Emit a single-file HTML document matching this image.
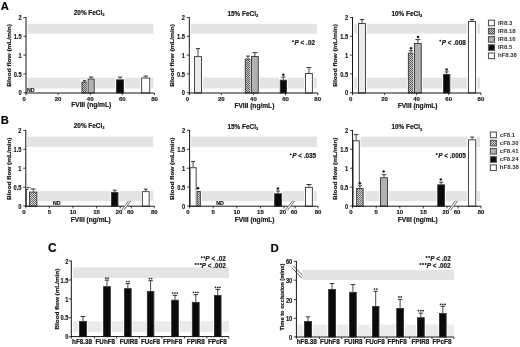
<!DOCTYPE html><html><head><meta charset="utf-8"><style>html,body{margin:0;padding:0;background:#fff;}svg{display:block;filter:blur(0.3px);}text{font-family:"Liberation Sans", sans-serif;stroke:#222;stroke-width:0.18px;}</style></head><body>
<svg width="520" height="347" viewBox="0 0 520 347" font-family='"Liberation Sans", sans-serif'>
<defs><pattern id="hatch" patternUnits="userSpaceOnUse" width="2" height="2"><rect width="2" height="2" fill="#dadada"/><rect width="1" height="1" fill="#646464"/><rect x="1" y="1" width="1" height="1" fill="#646464"/></pattern><pattern id="hatchA" patternUnits="userSpaceOnUse" width="2" height="2"><rect width="2" height="2" fill="#cecece"/><rect width="1" height="1" fill="#555"/><rect x="1" y="1" width="1" height="1" fill="#555"/></pattern></defs>
<rect width="520" height="347" fill="#fff"/>
<text x="0.8" y="9.9" font-size="11.2" text-anchor="start" font-weight="bold" fill="#000" >A</text>
<text x="0.8" y="123.6" font-size="11.2" text-anchor="start" font-weight="bold" fill="#000" >B</text>
<text x="48.1" y="252.2" font-size="11.9" text-anchor="start" font-weight="bold" fill="#000" >C</text>
<text x="270.5" y="252.0" font-size="11.6" text-anchor="start" font-weight="bold" fill="#000" >D</text>
<rect x="27.5" y="23.8" width="126.0" height="9.9" fill="#e4e4e4"/>
<rect x="27.5" y="77.6" width="126.0" height="10.9" fill="#e4e4e4"/>
<text x="27.0" y="92.0" font-size="5.3" text-anchor="start" font-weight="bold" fill="#111" >ND</text>
<rect x="80.7" y="79.39999999999999" width="7.699999999999994" height="13.600000000000009" fill="#fff"/>
<line x1="84.55" y1="80.6" x2="84.55" y2="81.6" stroke="#333" stroke-width="0.9"/>
<line x1="83.05" y1="80.6" x2="86.05" y2="80.6" stroke="#333" stroke-width="1"/>
<rect x="81.95" y="82.05" width="5.199999999999994" height="10.950000000000006" fill="url(#hatchA)" stroke="#333" stroke-width="0.9"/>
<rect x="86.8" y="75.89999999999999" width="8.700000000000008" height="17.10000000000001" fill="#fff"/>
<line x1="91.15" y1="77.1" x2="91.15" y2="78.6" stroke="#333" stroke-width="0.9"/>
<line x1="88.9" y1="77.1" x2="93.4" y2="77.1" stroke="#333" stroke-width="1"/>
<rect x="88.05" y="79.05" width="6.200000000000008" height="13.950000000000006" fill="#b2b2b2" stroke="#333" stroke-width="0.9"/>
<rect x="115.3" y="76.0" width="9.500000000000005" height="17.0" fill="#fff"/>
<line x1="120.05" y1="77.2" x2="120.05" y2="79.4" stroke="#333" stroke-width="0.9"/>
<line x1="117.8" y1="77.2" x2="122.3" y2="77.2" stroke="#333" stroke-width="1"/>
<rect x="116.55" y="79.85000000000001" width="7.000000000000005" height="13.149999999999995" fill="#0a0a0a" stroke="#333" stroke-width="0.9"/>
<rect x="140.39999999999998" y="74.89999999999999" width="10.6" height="18.10000000000001" fill="#fff"/>
<line x1="145.7" y1="76.1" x2="145.7" y2="77.6" stroke="#333" stroke-width="0.9"/>
<line x1="143.45" y1="76.1" x2="147.95" y2="76.1" stroke="#333" stroke-width="1"/>
<rect x="141.64999999999998" y="78.05" width="8.1" height="14.950000000000006" fill="#ffffff" stroke="#333" stroke-width="0.9"/>
<line x1="26" y1="17.0" x2="26" y2="93.5" stroke="#151515" stroke-width="1"/>
<line x1="23.4" y1="17.5" x2="26" y2="17.5" stroke="#151515" stroke-width="0.8"/>
<text x="0" y="0" transform="translate(21.60,20.10) scale(0.86,1)" font-size="6.6" text-anchor="end" font-weight="bold" fill="#111" style="stroke-width:0.15px">2</text>
<line x1="23.4" y1="36.3" x2="26" y2="36.3" stroke="#151515" stroke-width="0.8"/>
<text x="0" y="0" transform="translate(21.60,38.90) scale(0.86,1)" font-size="6.6" text-anchor="end" font-weight="bold" fill="#111" style="stroke-width:0.15px">1.5</text>
<line x1="23.4" y1="55.1" x2="26" y2="55.1" stroke="#151515" stroke-width="0.8"/>
<text x="0" y="0" transform="translate(21.60,57.70) scale(0.86,1)" font-size="6.6" text-anchor="end" font-weight="bold" fill="#111" style="stroke-width:0.15px">1</text>
<line x1="23.4" y1="73.9" x2="26" y2="73.9" stroke="#151515" stroke-width="0.8"/>
<text x="0" y="0" transform="translate(21.60,76.50) scale(0.86,1)" font-size="6.6" text-anchor="end" font-weight="bold" fill="#111" style="stroke-width:0.15px">0.5</text>
<line x1="23.4" y1="92.7" x2="26" y2="92.7" stroke="#151515" stroke-width="0.8"/>
<text x="0" y="0" transform="translate(21.60,95.30) scale(0.86,1)" font-size="6.6" text-anchor="end" font-weight="bold" fill="#111" style="stroke-width:0.15px">0</text>
<line x1="25.5" y1="93" x2="154.5" y2="93" stroke="#151515" stroke-width="1"/>
<line x1="26" y1="93" x2="26" y2="95.2" stroke="#151515" stroke-width="0.8"/>
<text x="0" y="0" transform="translate(24.20,100.60) scale(1.0,1)" font-size="6.0" text-anchor="middle" font-weight="bold" fill="#111" style="stroke-width:0.15px">0</text>
<line x1="58.1" y1="93" x2="58.1" y2="95.2" stroke="#151515" stroke-width="0.8"/>
<text x="0" y="0" transform="translate(58.10,100.60) scale(1.0,1)" font-size="6.0" text-anchor="middle" font-weight="bold" fill="#111" style="stroke-width:0.15px">20</text>
<line x1="90.2" y1="93" x2="90.2" y2="95.2" stroke="#151515" stroke-width="0.8"/>
<text x="0" y="0" transform="translate(90.20,100.60) scale(1.0,1)" font-size="6.0" text-anchor="middle" font-weight="bold" fill="#111" style="stroke-width:0.15px">40</text>
<line x1="122.3" y1="93" x2="122.3" y2="95.2" stroke="#151515" stroke-width="0.8"/>
<text x="0" y="0" transform="translate(122.30,100.60) scale(1.0,1)" font-size="6.0" text-anchor="middle" font-weight="bold" fill="#111" style="stroke-width:0.15px">60</text>
<line x1="154.5" y1="93" x2="154.5" y2="95.2" stroke="#151515" stroke-width="0.8"/>
<text x="0" y="0" transform="translate(154.50,100.60) scale(1.0,1)" font-size="6.0" text-anchor="middle" font-weight="bold" fill="#111" style="stroke-width:0.15px">80</text>
<text x="73.8" y="14.6" font-size="6.4" font-weight="bold" fill="#111">20% FeCl<tspan font-size="3.97" dy="1.2">3</tspan></text>
<text x="0" y="0" transform="translate(11.1,55.4) rotate(-90) scale(1.163,1)" font-size="5.6" text-anchor="middle" font-weight="bold" fill="#111">Blood flow (mL/min)</text>
<text x="91.2" y="107.3" font-size="6.6" text-anchor="middle" font-weight="bold" fill="#111" >FVIII (ng/mL)</text>
<rect x="190.8" y="23.8" width="126.19999999999999" height="9.9" fill="#e4e4e4"/>
<rect x="203.2" y="77.6" width="113.80000000000001" height="10.9" fill="#e4e4e4"/>
<rect x="193.29999999999998" y="47.4" width="9.400000000000011" height="45.6" fill="#fff"/>
<line x1="198.0" y1="48.6" x2="198.0" y2="56.2" stroke="#333" stroke-width="0.9"/>
<line x1="196.0" y1="48.6" x2="200.0" y2="48.6" stroke="#333" stroke-width="1"/>
<rect x="194.54999999999998" y="56.650000000000006" width="6.900000000000011" height="36.349999999999994" fill="#ebebeb" stroke="#333" stroke-width="0.9"/>
<rect x="244.0" y="54.9" width="7.899999999999983" height="38.1" fill="#fff"/>
<line x1="247.95" y1="56.1" x2="247.95" y2="58.6" stroke="#333" stroke-width="0.9"/>
<line x1="245.95" y1="56.1" x2="249.95" y2="56.1" stroke="#333" stroke-width="1"/>
<rect x="245.25" y="59.050000000000004" width="5.399999999999983" height="33.949999999999996" fill="url(#hatchA)" stroke="#333" stroke-width="0.9"/>
<rect x="250.29999999999998" y="51.4" width="9.199999999999994" height="41.6" fill="#fff"/>
<line x1="254.89999999999998" y1="52.6" x2="254.89999999999998" y2="56.1" stroke="#333" stroke-width="0.9"/>
<line x1="252.39999999999998" y1="52.6" x2="257.4" y2="52.6" stroke="#333" stroke-width="1"/>
<rect x="251.54999999999998" y="56.550000000000004" width="6.699999999999994" height="36.449999999999996" fill="#b2b2b2" stroke="#333" stroke-width="0.9"/>
<rect x="279.0" y="75.89999999999999" width="8.699999999999966" height="17.10000000000001" fill="#fff"/>
<line x1="283.35" y1="77.1" x2="283.35" y2="79.7" stroke="#333" stroke-width="0.9"/>
<line x1="281.35" y1="77.1" x2="285.35" y2="77.1" stroke="#333" stroke-width="1"/>
<rect x="280.25" y="80.15" width="6.1999999999999655" height="12.849999999999998" fill="#0a0a0a" stroke="#333" stroke-width="0.9"/>
<circle cx="283.30" cy="74.7" r="1.25" fill="#1a1a1a"/>
<rect x="304.3" y="66.39999999999999" width="9.299999999999988" height="26.60000000000001" fill="#fff"/>
<line x1="308.95000000000005" y1="67.6" x2="308.95000000000005" y2="73.1" stroke="#333" stroke-width="0.9"/>
<line x1="306.45000000000005" y1="67.6" x2="311.45000000000005" y2="67.6" stroke="#333" stroke-width="1"/>
<rect x="305.55" y="73.55" width="6.799999999999988" height="19.450000000000006" fill="#ffffff" stroke="#333" stroke-width="0.9"/>
<line x1="189.3" y1="17.0" x2="189.3" y2="93.5" stroke="#151515" stroke-width="1"/>
<line x1="186.70000000000002" y1="17.5" x2="189.3" y2="17.5" stroke="#151515" stroke-width="0.8"/>
<text x="0" y="0" transform="translate(184.90,20.10) scale(0.86,1)" font-size="6.6" text-anchor="end" font-weight="bold" fill="#111" style="stroke-width:0.15px">2</text>
<line x1="186.70000000000002" y1="36.3" x2="189.3" y2="36.3" stroke="#151515" stroke-width="0.8"/>
<text x="0" y="0" transform="translate(184.90,38.90) scale(0.86,1)" font-size="6.6" text-anchor="end" font-weight="bold" fill="#111" style="stroke-width:0.15px">1.5</text>
<line x1="186.70000000000002" y1="55.1" x2="189.3" y2="55.1" stroke="#151515" stroke-width="0.8"/>
<text x="0" y="0" transform="translate(184.90,57.70) scale(0.86,1)" font-size="6.6" text-anchor="end" font-weight="bold" fill="#111" style="stroke-width:0.15px">1</text>
<line x1="186.70000000000002" y1="73.9" x2="189.3" y2="73.9" stroke="#151515" stroke-width="0.8"/>
<text x="0" y="0" transform="translate(184.90,76.50) scale(0.86,1)" font-size="6.6" text-anchor="end" font-weight="bold" fill="#111" style="stroke-width:0.15px">0.5</text>
<line x1="186.70000000000002" y1="92.7" x2="189.3" y2="92.7" stroke="#151515" stroke-width="0.8"/>
<text x="0" y="0" transform="translate(184.90,95.30) scale(0.86,1)" font-size="6.6" text-anchor="end" font-weight="bold" fill="#111" style="stroke-width:0.15px">0</text>
<line x1="188.8" y1="93" x2="318" y2="93" stroke="#151515" stroke-width="1"/>
<line x1="189.3" y1="93" x2="189.3" y2="95.2" stroke="#151515" stroke-width="0.8"/>
<text x="0" y="0" transform="translate(187.50,100.60) scale(1.0,1)" font-size="6.0" text-anchor="middle" font-weight="bold" fill="#111" style="stroke-width:0.15px">0</text>
<line x1="221.3" y1="93" x2="221.3" y2="95.2" stroke="#151515" stroke-width="0.8"/>
<text x="0" y="0" transform="translate(221.30,100.60) scale(1.0,1)" font-size="6.0" text-anchor="middle" font-weight="bold" fill="#111" style="stroke-width:0.15px">20</text>
<line x1="253.4" y1="93" x2="253.4" y2="95.2" stroke="#151515" stroke-width="0.8"/>
<text x="0" y="0" transform="translate(253.40,100.60) scale(1.0,1)" font-size="6.0" text-anchor="middle" font-weight="bold" fill="#111" style="stroke-width:0.15px">40</text>
<line x1="285.5" y1="93" x2="285.5" y2="95.2" stroke="#151515" stroke-width="0.8"/>
<text x="0" y="0" transform="translate(285.50,100.60) scale(1.0,1)" font-size="6.0" text-anchor="middle" font-weight="bold" fill="#111" style="stroke-width:0.15px">60</text>
<line x1="317.7" y1="93" x2="317.7" y2="95.2" stroke="#151515" stroke-width="0.8"/>
<text x="0" y="0" transform="translate(317.70,100.60) scale(1.0,1)" font-size="6.0" text-anchor="middle" font-weight="bold" fill="#111" style="stroke-width:0.15px">80</text>
<text x="227.5" y="15.8" font-size="6.4" font-weight="bold" fill="#111">15% FeCl<tspan font-size="3.97" dy="1.2">3</tspan></text>
<text x="0" y="0" transform="translate(174.1,55.4) rotate(-90) scale(1.163,1)" font-size="5.6" text-anchor="middle" font-weight="bold" fill="#111">Blood flow (mL/min)</text>
<text x="315" y="45" font-size="6.4" font-weight="bold" text-anchor="end" fill="#111"><tspan font-style="italic">P</tspan> &lt; .02</text>
<circle cx="293.04" cy="41.16" r="0.95" fill="#1a1a1a"/>
<text x="254.4" y="107.7" font-size="6.6" text-anchor="middle" font-weight="bold" fill="#111" >FVIII (ng/mL)</text>
<rect x="354.0" y="23.8" width="126.0" height="9.9" fill="#e4e4e4"/>
<rect x="354.0" y="77.6" width="126.0" height="10.9" fill="#e4e4e4"/>
<rect x="357.3" y="18.400000000000002" width="9.499999999999977" height="74.6" fill="#fff"/>
<line x1="362.05" y1="19.6" x2="362.05" y2="23.1" stroke="#333" stroke-width="0.9"/>
<line x1="359.8" y1="19.6" x2="364.3" y2="19.6" stroke="#333" stroke-width="1"/>
<rect x="358.55" y="23.55" width="6.999999999999977" height="69.45" fill="#ebebeb" stroke="#333" stroke-width="0.9"/>
<rect x="407.09999999999997" y="49.5" width="7.800000000000045" height="43.5" fill="#fff"/>
<line x1="411.0" y1="50.7" x2="411.0" y2="52.7" stroke="#333" stroke-width="0.9"/>
<line x1="409.0" y1="50.7" x2="413.0" y2="50.7" stroke="#333" stroke-width="1"/>
<rect x="408.34999999999997" y="53.150000000000006" width="5.300000000000045" height="39.849999999999994" fill="url(#hatchA)" stroke="#333" stroke-width="0.9"/>
<circle cx="411.10" cy="48.3" r="1.25" fill="#1a1a1a"/>
<rect x="413.3" y="38.4" width="9.199999999999966" height="54.6" fill="#fff"/>
<line x1="417.9" y1="39.6" x2="417.9" y2="43.1" stroke="#333" stroke-width="0.9"/>
<line x1="415.4" y1="39.6" x2="420.4" y2="39.6" stroke="#333" stroke-width="1"/>
<rect x="414.55" y="43.550000000000004" width="6.6999999999999655" height="49.449999999999996" fill="#b2b2b2" stroke="#333" stroke-width="0.9"/>
<circle cx="418.00" cy="37.0" r="1.25" fill="#1a1a1a"/>
<rect x="442.2" y="70.7" width="8.900000000000011" height="22.299999999999997" fill="#fff"/>
<line x1="446.65" y1="71.9" x2="446.65" y2="74.1" stroke="#333" stroke-width="0.9"/>
<line x1="444.65" y1="71.9" x2="448.65" y2="71.9" stroke="#333" stroke-width="1"/>
<rect x="443.45" y="74.55" width="6.400000000000011" height="18.450000000000006" fill="#0a0a0a" stroke="#333" stroke-width="0.9"/>
<circle cx="446.60" cy="69.4" r="1.25" fill="#1a1a1a"/>
<rect x="467.2" y="18.400000000000002" width="9.6" height="74.6" fill="#fff"/>
<line x1="472.0" y1="19.6" x2="472.0" y2="21.1" stroke="#333" stroke-width="0.9"/>
<line x1="470.0" y1="19.6" x2="474.0" y2="19.6" stroke="#333" stroke-width="1"/>
<rect x="468.45" y="21.55" width="7.1" height="71.45" fill="#ffffff" stroke="#333" stroke-width="0.9"/>
<line x1="352.5" y1="17.0" x2="352.5" y2="93.5" stroke="#151515" stroke-width="1"/>
<line x1="349.9" y1="17.5" x2="352.5" y2="17.5" stroke="#151515" stroke-width="0.8"/>
<text x="0" y="0" transform="translate(348.10,20.10) scale(0.86,1)" font-size="6.6" text-anchor="end" font-weight="bold" fill="#111" style="stroke-width:0.15px">2</text>
<line x1="349.9" y1="36.3" x2="352.5" y2="36.3" stroke="#151515" stroke-width="0.8"/>
<text x="0" y="0" transform="translate(348.10,38.90) scale(0.86,1)" font-size="6.6" text-anchor="end" font-weight="bold" fill="#111" style="stroke-width:0.15px">1.5</text>
<line x1="349.9" y1="55.1" x2="352.5" y2="55.1" stroke="#151515" stroke-width="0.8"/>
<text x="0" y="0" transform="translate(348.10,57.70) scale(0.86,1)" font-size="6.6" text-anchor="end" font-weight="bold" fill="#111" style="stroke-width:0.15px">1</text>
<line x1="349.9" y1="73.9" x2="352.5" y2="73.9" stroke="#151515" stroke-width="0.8"/>
<text x="0" y="0" transform="translate(348.10,76.50) scale(0.86,1)" font-size="6.6" text-anchor="end" font-weight="bold" fill="#111" style="stroke-width:0.15px">0.5</text>
<line x1="349.9" y1="92.7" x2="352.5" y2="92.7" stroke="#151515" stroke-width="0.8"/>
<text x="0" y="0" transform="translate(348.10,95.30) scale(0.86,1)" font-size="6.6" text-anchor="end" font-weight="bold" fill="#111" style="stroke-width:0.15px">0</text>
<line x1="352.0" y1="93" x2="481" y2="93" stroke="#151515" stroke-width="1"/>
<line x1="352.5" y1="93" x2="352.5" y2="95.2" stroke="#151515" stroke-width="0.8"/>
<text x="0" y="0" transform="translate(350.70,100.60) scale(1.0,1)" font-size="6.0" text-anchor="middle" font-weight="bold" fill="#111" style="stroke-width:0.15px">0</text>
<line x1="384.6" y1="93" x2="384.6" y2="95.2" stroke="#151515" stroke-width="0.8"/>
<text x="0" y="0" transform="translate(384.60,100.60) scale(1.0,1)" font-size="6.0" text-anchor="middle" font-weight="bold" fill="#111" style="stroke-width:0.15px">20</text>
<line x1="416.6" y1="93" x2="416.6" y2="95.2" stroke="#151515" stroke-width="0.8"/>
<text x="0" y="0" transform="translate(416.60,100.60) scale(1.0,1)" font-size="6.0" text-anchor="middle" font-weight="bold" fill="#111" style="stroke-width:0.15px">40</text>
<line x1="448.7" y1="93" x2="448.7" y2="95.2" stroke="#151515" stroke-width="0.8"/>
<text x="0" y="0" transform="translate(448.70,100.60) scale(1.0,1)" font-size="6.0" text-anchor="middle" font-weight="bold" fill="#111" style="stroke-width:0.15px">60</text>
<line x1="480.9" y1="93" x2="480.9" y2="95.2" stroke="#151515" stroke-width="0.8"/>
<text x="0" y="0" transform="translate(480.90,100.60) scale(1.0,1)" font-size="6.0" text-anchor="middle" font-weight="bold" fill="#111" style="stroke-width:0.15px">80</text>
<text x="391.5" y="16.0" font-size="6.4" font-weight="bold" fill="#111">10% FeCl<tspan font-size="3.97" dy="1.2">3</tspan></text>
<text x="0" y="0" transform="translate(337.3,55.4) rotate(-90) scale(1.163,1)" font-size="5.6" text-anchor="middle" font-weight="bold" fill="#111">Blood flow (mL/min)</text>
<text x="465.8" y="44.5" font-size="6.4" font-weight="bold" text-anchor="end" fill="#111"><tspan font-style="italic">P</tspan> &lt; .008</text>
<circle cx="440.28" cy="40.66" r="0.95" fill="#1a1a1a"/>
<text x="417.6" y="107.7" font-size="6.6" text-anchor="middle" font-weight="bold" fill="#111" >FVIII (ng/mL)</text>
<rect x="488.5" y="20.2" width="6" height="5.6" fill="#ffffff" stroke="#555" stroke-width="1.1"/>
<text x="497.9" y="24.6" font-size="6.0" text-anchor="start" font-weight="bold" fill="#333" style="stroke:none">IR8.3</text>
<rect x="488.5" y="28.4" width="6" height="5.6" fill="url(#hatchA)" stroke="#555" stroke-width="1.1"/>
<text x="497.9" y="32.8" font-size="6.0" text-anchor="start" font-weight="bold" fill="#333" style="stroke:none">IR8.18</text>
<rect x="488.5" y="36.599999999999994" width="6" height="5.6" fill="#b2b2b2" stroke="#555" stroke-width="1.1"/>
<text x="497.9" y="40.99999999999999" font-size="6.0" text-anchor="start" font-weight="bold" fill="#333" style="stroke:none">IR8.16</text>
<rect x="488.5" y="44.8" width="6" height="5.6" fill="#0a0a0a" stroke="#555" stroke-width="1.1"/>
<text x="497.9" y="49.199999999999996" font-size="6.0" text-anchor="start" font-weight="bold" fill="#333" style="stroke:none">IR8.5</text>
<rect x="488.5" y="53.0" width="6" height="5.6" fill="#ffffff" stroke="#555" stroke-width="1.1"/>
<text x="497.9" y="57.4" font-size="6.0" text-anchor="start" font-weight="bold" fill="#333" style="stroke:none">hF8.38</text>
<rect x="27.3" y="136.6" width="126.0" height="10.3" fill="#e4e4e4"/>
<rect x="37.5" y="191.0" width="115.80000000000001" height="10.4" fill="#e4e4e4"/>
<text x="53.0" y="205.2" font-size="5.3" text-anchor="start" font-weight="bold" fill="#111" >ND</text>
<rect x="25.0" y="186.4" width="7.299999999999999" height="19.799999999999983" fill="#fff"/>
<line x1="28.65" y1="187.6" x2="28.65" y2="188.9" stroke="#333" stroke-width="0.9"/>
<line x1="26.65" y1="187.6" x2="30.65" y2="187.6" stroke="#333" stroke-width="1"/>
<rect x="26.25" y="189.35" width="4.799999999999999" height="16.849999999999984" fill="#ffffff" stroke="#333" stroke-width="0.9"/>
<rect x="28.3" y="187.8" width="9.799999999999995" height="18.399999999999977" fill="#fff"/>
<line x1="33.2" y1="189.0" x2="33.2" y2="191.6" stroke="#333" stroke-width="0.9"/>
<line x1="30.700000000000003" y1="189.0" x2="35.7" y2="189.0" stroke="#333" stroke-width="1"/>
<rect x="29.55" y="192.04999999999998" width="7.299999999999995" height="14.149999999999995" fill="url(#hatch)" stroke="#333" stroke-width="0.9"/>
<rect x="110.2" y="189.0" width="9.000000000000005" height="17.19999999999999" fill="#fff"/>
<line x1="114.7" y1="190.2" x2="114.7" y2="191.9" stroke="#333" stroke-width="0.9"/>
<line x1="112.7" y1="190.2" x2="116.7" y2="190.2" stroke="#333" stroke-width="1"/>
<rect x="111.45" y="192.35" width="6.500000000000005" height="13.849999999999984" fill="#0a0a0a" stroke="#333" stroke-width="0.9"/>
<rect x="141.1" y="188.0" width="9.299999999999988" height="18.19999999999999" fill="#fff"/>
<line x1="145.75" y1="189.2" x2="145.75" y2="191.2" stroke="#333" stroke-width="0.9"/>
<line x1="143.75" y1="189.2" x2="147.75" y2="189.2" stroke="#333" stroke-width="1"/>
<rect x="142.35" y="191.64999999999998" width="6.799999999999988" height="14.55" fill="#ffffff" stroke="#333" stroke-width="0.9"/>
<line x1="25.8" y1="129.9" x2="25.8" y2="206.7" stroke="#151515" stroke-width="1"/>
<line x1="23.2" y1="130.4" x2="25.8" y2="130.4" stroke="#151515" stroke-width="0.8"/>
<text x="0" y="0" transform="translate(21.40,133.00) scale(0.86,1)" font-size="6.6" text-anchor="end" font-weight="bold" fill="#111" style="stroke-width:0.15px">2</text>
<line x1="23.2" y1="149.3" x2="25.8" y2="149.3" stroke="#151515" stroke-width="0.8"/>
<text x="0" y="0" transform="translate(21.40,151.90) scale(0.86,1)" font-size="6.6" text-anchor="end" font-weight="bold" fill="#111" style="stroke-width:0.15px">1.5</text>
<line x1="23.2" y1="168.2" x2="25.8" y2="168.2" stroke="#151515" stroke-width="0.8"/>
<text x="0" y="0" transform="translate(21.40,170.80) scale(0.86,1)" font-size="6.6" text-anchor="end" font-weight="bold" fill="#111" style="stroke-width:0.15px">1</text>
<line x1="23.2" y1="187.1" x2="25.8" y2="187.1" stroke="#151515" stroke-width="0.8"/>
<text x="0" y="0" transform="translate(21.40,189.70) scale(0.86,1)" font-size="6.6" text-anchor="end" font-weight="bold" fill="#111" style="stroke-width:0.15px">0.5</text>
<line x1="23.2" y1="206.0" x2="25.8" y2="206.0" stroke="#151515" stroke-width="0.8"/>
<text x="0" y="0" transform="translate(21.40,208.60) scale(0.86,1)" font-size="6.6" text-anchor="end" font-weight="bold" fill="#111" style="stroke-width:0.15px">0</text>
<line x1="25.3" y1="206.2" x2="124.0" y2="206.2" stroke="#151515" stroke-width="1"/>
<line x1="127.39999999999999" y1="206.2" x2="154.3" y2="206.2" stroke="#151515" stroke-width="1"/>
<line x1="25.8" y1="206.2" x2="25.8" y2="208.4" stroke="#151515" stroke-width="0.8"/>
<text x="0" y="0" transform="translate(24.00,214.40) scale(1.0,1)" font-size="6.0" text-anchor="middle" font-weight="bold" fill="#111" style="stroke-width:0.15px">0</text>
<line x1="49.4" y1="206.2" x2="49.4" y2="208.4" stroke="#151515" stroke-width="0.8"/>
<text x="0" y="0" transform="translate(49.40,214.40) scale(1.0,1)" font-size="6.0" text-anchor="middle" font-weight="bold" fill="#111" style="stroke-width:0.15px">5</text>
<line x1="73.0" y1="206.2" x2="73.0" y2="208.4" stroke="#151515" stroke-width="0.8"/>
<text x="0" y="0" transform="translate(73.00,214.40) scale(1.0,1)" font-size="6.0" text-anchor="middle" font-weight="bold" fill="#111" style="stroke-width:0.15px">10</text>
<line x1="96.6" y1="206.2" x2="96.6" y2="208.4" stroke="#151515" stroke-width="0.8"/>
<text x="0" y="0" transform="translate(96.60,214.40) scale(1.0,1)" font-size="6.0" text-anchor="middle" font-weight="bold" fill="#111" style="stroke-width:0.15px">15</text>
<line x1="120.19999999999999" y1="206.2" x2="120.19999999999999" y2="208.4" stroke="#151515" stroke-width="0.8"/>
<text x="0" y="0" transform="translate(119.00,214.40) scale(1.0,1)" font-size="6.0" text-anchor="middle" font-weight="bold" fill="#111" style="stroke-width:0.15px">20</text>
<line x1="131.3" y1="206.2" x2="131.3" y2="208.4" stroke="#151515" stroke-width="0.8"/>
<text x="0" y="0" transform="translate(130.30,214.40) scale(1.0,1)" font-size="6.0" text-anchor="middle" font-weight="bold" fill="#111" style="stroke-width:0.15px">60</text>
<line x1="154.3" y1="206.2" x2="154.3" y2="208.4" stroke="#151515" stroke-width="0.8"/>
<text x="0" y="0" transform="translate(154.30,214.40) scale(1.0,1)" font-size="6.0" text-anchor="middle" font-weight="bold" fill="#111" style="stroke-width:0.15px">80</text>
<line x1="121.39999999999999" y1="210.4" x2="128.6" y2="200.9" stroke="#444" stroke-width="0.8"/>
<line x1="123.69999999999999" y1="210.4" x2="130.89999999999998" y2="200.9" stroke="#444" stroke-width="0.8"/>
<text x="73.8" y="127.6" font-size="6.4" font-weight="bold" fill="#111">20% FeCl<tspan font-size="3.97" dy="1.2">3</tspan></text>
<text x="0" y="0" transform="translate(11.1,168.7) rotate(-90) scale(1.163,1)" font-size="5.6" text-anchor="middle" font-weight="bold" fill="#111">Blood flow (mL/min)</text>
<text x="90.8" y="221.6" font-size="6.6" text-anchor="middle" font-weight="bold" fill="#111" >FVIII (ng/mL)</text>
<rect x="191.1" y="136.6" width="125.9" height="10.3" fill="#e4e4e4"/>
<rect x="201.7" y="191.0" width="115.30000000000001" height="10.4" fill="#e4e4e4"/>
<text x="216.3" y="204.5" font-size="5.3" text-anchor="start" font-weight="bold" fill="#111" >ND</text>
<rect x="188.79999999999998" y="160.4" width="8.6" height="45.79999999999998" fill="#fff"/>
<line x1="193.1" y1="161.6" x2="193.1" y2="167.3" stroke="#333" stroke-width="0.9"/>
<line x1="191.1" y1="161.6" x2="195.1" y2="161.6" stroke="#333" stroke-width="1"/>
<rect x="190.04999999999998" y="167.75" width="6.1" height="38.449999999999974" fill="#ffffff" stroke="#333" stroke-width="0.9"/>
<rect x="195.7" y="190.2" width="5.900000000000011" height="16.0" fill="#fff"/>
<rect x="196.95" y="191.45" width="3.4000000000000115" height="14.74999999999999" fill="url(#hatch)" stroke="#333" stroke-width="0.9"/>
<circle cx="198.00" cy="188.3" r="1.25" fill="#1a1a1a"/>
<rect x="273.4" y="189.8" width="9.299999999999988" height="16.399999999999977" fill="#fff"/>
<line x1="278.04999999999995" y1="191" x2="278.04999999999995" y2="193.3" stroke="#333" stroke-width="0.9"/>
<line x1="276.04999999999995" y1="191" x2="280.04999999999995" y2="191" stroke="#333" stroke-width="1"/>
<rect x="274.65" y="193.75" width="6.799999999999988" height="12.449999999999978" fill="#0a0a0a" stroke="#333" stroke-width="0.9"/>
<circle cx="277.90" cy="188.5" r="1.25" fill="#1a1a1a"/>
<rect x="304.3" y="183.3" width="9.299999999999988" height="22.899999999999977" fill="#fff"/>
<line x1="308.95000000000005" y1="184.5" x2="308.95000000000005" y2="186.9" stroke="#333" stroke-width="0.9"/>
<line x1="306.45000000000005" y1="184.5" x2="311.45000000000005" y2="184.5" stroke="#333" stroke-width="1"/>
<rect x="305.55" y="187.35" width="6.799999999999988" height="18.849999999999984" fill="#ffffff" stroke="#333" stroke-width="0.9"/>
<line x1="189.6" y1="129.9" x2="189.6" y2="206.7" stroke="#151515" stroke-width="1"/>
<line x1="187.0" y1="130.4" x2="189.6" y2="130.4" stroke="#151515" stroke-width="0.8"/>
<text x="0" y="0" transform="translate(185.20,133.00) scale(0.86,1)" font-size="6.6" text-anchor="end" font-weight="bold" fill="#111" style="stroke-width:0.15px">2</text>
<line x1="187.0" y1="149.3" x2="189.6" y2="149.3" stroke="#151515" stroke-width="0.8"/>
<text x="0" y="0" transform="translate(185.20,151.90) scale(0.86,1)" font-size="6.6" text-anchor="end" font-weight="bold" fill="#111" style="stroke-width:0.15px">1.5</text>
<line x1="187.0" y1="168.2" x2="189.6" y2="168.2" stroke="#151515" stroke-width="0.8"/>
<text x="0" y="0" transform="translate(185.20,170.80) scale(0.86,1)" font-size="6.6" text-anchor="end" font-weight="bold" fill="#111" style="stroke-width:0.15px">1</text>
<line x1="187.0" y1="187.1" x2="189.6" y2="187.1" stroke="#151515" stroke-width="0.8"/>
<text x="0" y="0" transform="translate(185.20,189.70) scale(0.86,1)" font-size="6.6" text-anchor="end" font-weight="bold" fill="#111" style="stroke-width:0.15px">0.5</text>
<line x1="187.0" y1="206.0" x2="189.6" y2="206.0" stroke="#151515" stroke-width="0.8"/>
<text x="0" y="0" transform="translate(185.20,208.60) scale(0.86,1)" font-size="6.6" text-anchor="end" font-weight="bold" fill="#111" style="stroke-width:0.15px">0</text>
<line x1="189.1" y1="206.2" x2="287.8" y2="206.2" stroke="#151515" stroke-width="1"/>
<line x1="291.2" y1="206.2" x2="318" y2="206.2" stroke="#151515" stroke-width="1"/>
<line x1="189.6" y1="206.2" x2="189.6" y2="208.4" stroke="#151515" stroke-width="0.8"/>
<text x="0" y="0" transform="translate(187.80,214.40) scale(1.0,1)" font-size="6.0" text-anchor="middle" font-weight="bold" fill="#111" style="stroke-width:0.15px">0</text>
<line x1="213.2" y1="206.2" x2="213.2" y2="208.4" stroke="#151515" stroke-width="0.8"/>
<text x="0" y="0" transform="translate(213.20,214.40) scale(1.0,1)" font-size="6.0" text-anchor="middle" font-weight="bold" fill="#111" style="stroke-width:0.15px">5</text>
<line x1="236.79999999999998" y1="206.2" x2="236.79999999999998" y2="208.4" stroke="#151515" stroke-width="0.8"/>
<text x="0" y="0" transform="translate(236.80,214.40) scale(1.0,1)" font-size="6.0" text-anchor="middle" font-weight="bold" fill="#111" style="stroke-width:0.15px">10</text>
<line x1="260.4" y1="206.2" x2="260.4" y2="208.4" stroke="#151515" stroke-width="0.8"/>
<text x="0" y="0" transform="translate(260.40,214.40) scale(1.0,1)" font-size="6.0" text-anchor="middle" font-weight="bold" fill="#111" style="stroke-width:0.15px">15</text>
<line x1="284.0" y1="206.2" x2="284.0" y2="208.4" stroke="#151515" stroke-width="0.8"/>
<text x="0" y="0" transform="translate(282.80,214.40) scale(1.0,1)" font-size="6.0" text-anchor="middle" font-weight="bold" fill="#111" style="stroke-width:0.15px">20</text>
<line x1="295.1" y1="206.2" x2="295.1" y2="208.4" stroke="#151515" stroke-width="0.8"/>
<text x="0" y="0" transform="translate(294.10,214.40) scale(1.0,1)" font-size="6.0" text-anchor="middle" font-weight="bold" fill="#111" style="stroke-width:0.15px">60</text>
<line x1="318.1" y1="206.2" x2="318.1" y2="208.4" stroke="#151515" stroke-width="0.8"/>
<text x="0" y="0" transform="translate(318.10,214.40) scale(1.0,1)" font-size="6.0" text-anchor="middle" font-weight="bold" fill="#111" style="stroke-width:0.15px">80</text>
<line x1="285.2" y1="210.4" x2="292.4" y2="200.9" stroke="#444" stroke-width="0.8"/>
<line x1="287.5" y1="210.4" x2="294.7" y2="200.9" stroke="#444" stroke-width="0.8"/>
<text x="227.5" y="129.1" font-size="6.4" font-weight="bold" fill="#111">15% FeCl<tspan font-size="3.97" dy="1.2">3</tspan></text>
<text x="0" y="0" transform="translate(174.1,168.7) rotate(-90) scale(1.163,1)" font-size="5.6" text-anchor="middle" font-weight="bold" fill="#111">Blood flow (mL/min)</text>
<text x="316.2" y="158.2" font-size="6.4" font-weight="bold" text-anchor="end" fill="#111"><tspan font-style="italic">P</tspan> &lt; .035</text>
<circle cx="290.68" cy="154.36" r="0.95" fill="#1a1a1a"/>
<text x="254.6" y="221.6" font-size="6.6" text-anchor="middle" font-weight="bold" fill="#111" >FVIII (ng/mL)</text>
<rect x="354.1" y="136.6" width="125.89999999999998" height="10.3" fill="#e4e4e4"/>
<rect x="365.3" y="191.0" width="114.69999999999999" height="10.4" fill="#e4e4e4"/>
<rect x="351.8" y="133.4" width="8.699999999999966" height="72.79999999999998" fill="#fff"/>
<line x1="356.15" y1="134.6" x2="356.15" y2="140.3" stroke="#333" stroke-width="0.9"/>
<line x1="353.9" y1="134.6" x2="358.4" y2="134.6" stroke="#333" stroke-width="1"/>
<rect x="353.05" y="140.75" width="6.1999999999999655" height="65.44999999999997" fill="#ffffff" stroke="#333" stroke-width="0.9"/>
<rect x="355.4" y="184.60000000000002" width="9.000000000000034" height="21.599999999999966" fill="#fff"/>
<line x1="359.9" y1="185.8" x2="359.9" y2="188.1" stroke="#333" stroke-width="0.9"/>
<line x1="357.9" y1="185.8" x2="361.9" y2="185.8" stroke="#333" stroke-width="1"/>
<rect x="356.65" y="188.54999999999998" width="6.500000000000034" height="17.649999999999995" fill="url(#hatch)" stroke="#333" stroke-width="0.9"/>
<circle cx="359.90" cy="183.3" r="1.25" fill="#1a1a1a"/>
<rect x="379.3" y="173.5" width="9.399999999999954" height="32.69999999999999" fill="#fff"/>
<line x1="384.0" y1="174.7" x2="384.0" y2="177.3" stroke="#333" stroke-width="0.9"/>
<line x1="381.75" y1="174.7" x2="386.25" y2="174.7" stroke="#333" stroke-width="1"/>
<rect x="380.55" y="177.75" width="6.899999999999954" height="28.449999999999978" fill="#b2b2b2" stroke="#333" stroke-width="0.9"/>
<circle cx="383.60" cy="171.6" r="1.25" fill="#1a1a1a"/>
<rect x="436.5" y="181.10000000000002" width="9.299999999999988" height="25.099999999999966" fill="#fff"/>
<line x1="441.15" y1="182.3" x2="441.15" y2="184.4" stroke="#333" stroke-width="0.9"/>
<line x1="439.15" y1="182.3" x2="443.15" y2="182.3" stroke="#333" stroke-width="1"/>
<rect x="437.75" y="184.85" width="6.799999999999988" height="21.349999999999984" fill="#0a0a0a" stroke="#333" stroke-width="0.9"/>
<circle cx="440.80" cy="179.6" r="1.25" fill="#1a1a1a"/>
<rect x="467.3" y="135.9" width="9.699999999999966" height="70.29999999999998" fill="#fff"/>
<line x1="472.15" y1="137.1" x2="472.15" y2="139.4" stroke="#333" stroke-width="0.9"/>
<line x1="470.15" y1="137.1" x2="474.15" y2="137.1" stroke="#333" stroke-width="1"/>
<rect x="468.55" y="139.85" width="7.1999999999999655" height="66.34999999999998" fill="#ffffff" stroke="#333" stroke-width="0.9"/>
<line x1="352.6" y1="129.9" x2="352.6" y2="206.7" stroke="#151515" stroke-width="1"/>
<line x1="350.0" y1="130.4" x2="352.6" y2="130.4" stroke="#151515" stroke-width="0.8"/>
<text x="0" y="0" transform="translate(348.20,133.00) scale(0.86,1)" font-size="6.6" text-anchor="end" font-weight="bold" fill="#111" style="stroke-width:0.15px">2</text>
<line x1="350.0" y1="149.3" x2="352.6" y2="149.3" stroke="#151515" stroke-width="0.8"/>
<text x="0" y="0" transform="translate(348.20,151.90) scale(0.86,1)" font-size="6.6" text-anchor="end" font-weight="bold" fill="#111" style="stroke-width:0.15px">1.5</text>
<line x1="350.0" y1="168.2" x2="352.6" y2="168.2" stroke="#151515" stroke-width="0.8"/>
<text x="0" y="0" transform="translate(348.20,170.80) scale(0.86,1)" font-size="6.6" text-anchor="end" font-weight="bold" fill="#111" style="stroke-width:0.15px">1</text>
<line x1="350.0" y1="187.1" x2="352.6" y2="187.1" stroke="#151515" stroke-width="0.8"/>
<text x="0" y="0" transform="translate(348.20,189.70) scale(0.86,1)" font-size="6.6" text-anchor="end" font-weight="bold" fill="#111" style="stroke-width:0.15px">0.5</text>
<line x1="350.0" y1="206.0" x2="352.6" y2="206.0" stroke="#151515" stroke-width="0.8"/>
<text x="0" y="0" transform="translate(348.20,208.60) scale(0.86,1)" font-size="6.6" text-anchor="end" font-weight="bold" fill="#111" style="stroke-width:0.15px">0</text>
<line x1="352.1" y1="206.2" x2="450.8" y2="206.2" stroke="#151515" stroke-width="1"/>
<line x1="454.20000000000005" y1="206.2" x2="481.1" y2="206.2" stroke="#151515" stroke-width="1"/>
<line x1="352.6" y1="206.2" x2="352.6" y2="208.4" stroke="#151515" stroke-width="0.8"/>
<text x="0" y="0" transform="translate(350.80,214.40) scale(1.0,1)" font-size="6.0" text-anchor="middle" font-weight="bold" fill="#111" style="stroke-width:0.15px">0</text>
<line x1="376.20000000000005" y1="206.2" x2="376.20000000000005" y2="208.4" stroke="#151515" stroke-width="0.8"/>
<text x="0" y="0" transform="translate(376.20,214.40) scale(1.0,1)" font-size="6.0" text-anchor="middle" font-weight="bold" fill="#111" style="stroke-width:0.15px">5</text>
<line x1="399.8" y1="206.2" x2="399.8" y2="208.4" stroke="#151515" stroke-width="0.8"/>
<text x="0" y="0" transform="translate(399.80,214.40) scale(1.0,1)" font-size="6.0" text-anchor="middle" font-weight="bold" fill="#111" style="stroke-width:0.15px">10</text>
<line x1="423.40000000000003" y1="206.2" x2="423.40000000000003" y2="208.4" stroke="#151515" stroke-width="0.8"/>
<text x="0" y="0" transform="translate(423.40,214.40) scale(1.0,1)" font-size="6.0" text-anchor="middle" font-weight="bold" fill="#111" style="stroke-width:0.15px">15</text>
<line x1="447.0" y1="206.2" x2="447.0" y2="208.4" stroke="#151515" stroke-width="0.8"/>
<text x="0" y="0" transform="translate(445.80,214.40) scale(1.0,1)" font-size="6.0" text-anchor="middle" font-weight="bold" fill="#111" style="stroke-width:0.15px">20</text>
<line x1="458.1" y1="206.2" x2="458.1" y2="208.4" stroke="#151515" stroke-width="0.8"/>
<text x="0" y="0" transform="translate(457.10,214.40) scale(1.0,1)" font-size="6.0" text-anchor="middle" font-weight="bold" fill="#111" style="stroke-width:0.15px">60</text>
<line x1="481.1" y1="206.2" x2="481.1" y2="208.4" stroke="#151515" stroke-width="0.8"/>
<text x="0" y="0" transform="translate(481.10,214.40) scale(1.0,1)" font-size="6.0" text-anchor="middle" font-weight="bold" fill="#111" style="stroke-width:0.15px">80</text>
<line x1="448.20000000000005" y1="210.4" x2="455.40000000000003" y2="200.9" stroke="#444" stroke-width="0.8"/>
<line x1="450.50000000000006" y1="210.4" x2="457.70000000000005" y2="200.9" stroke="#444" stroke-width="0.8"/>
<text x="391.5" y="129.3" font-size="6.4" font-weight="bold" fill="#111">10% FeCl<tspan font-size="3.97" dy="1.2">3</tspan></text>
<text x="0" y="0" transform="translate(337.3,168.7) rotate(-90) scale(1.163,1)" font-size="5.6" text-anchor="middle" font-weight="bold" fill="#111">Blood flow (mL/min)</text>
<text x="465.8" y="157.8" font-size="6.4" font-weight="bold" text-anchor="end" fill="#111"><tspan font-style="italic">P</tspan> &lt; .0005</text>
<circle cx="436.72" cy="153.96" r="0.95" fill="#1a1a1a"/>
<text x="417.8" y="221.6" font-size="6.6" text-anchor="middle" font-weight="bold" fill="#111" >FVIII (ng/mL)</text>
<rect x="490.4" y="132.1" width="6" height="5.6" fill="#ffffff" stroke="#555" stroke-width="1.1"/>
<text x="499.8" y="136.5" font-size="6.0" text-anchor="start" font-weight="bold" fill="#333" style="stroke:none">cF8.1</text>
<rect x="490.4" y="140.29999999999998" width="6" height="5.6" fill="url(#hatch)" stroke="#555" stroke-width="1.1"/>
<text x="499.8" y="144.7" font-size="6.0" text-anchor="start" font-weight="bold" fill="#333" style="stroke:none">cF8.30</text>
<rect x="490.4" y="148.5" width="6" height="5.6" fill="#b2b2b2" stroke="#555" stroke-width="1.1"/>
<text x="499.8" y="152.9" font-size="6.0" text-anchor="start" font-weight="bold" fill="#333" style="stroke:none">cF8.41</text>
<rect x="490.4" y="156.7" width="6" height="5.6" fill="#0a0a0a" stroke="#555" stroke-width="1.1"/>
<text x="499.8" y="161.1" font-size="6.0" text-anchor="start" font-weight="bold" fill="#333" style="stroke:none">cF8.24</text>
<rect x="490.4" y="164.89999999999998" width="6" height="5.6" fill="#ffffff" stroke="#555" stroke-width="1.1"/>
<text x="499.8" y="169.29999999999998" font-size="6.0" text-anchor="start" font-weight="bold" fill="#333" style="stroke:none">hF8.38</text>
<line x1="71.3" y1="260.5" x2="71.3" y2="337.1" stroke="#151515" stroke-width="1"/>
<line x1="68.7" y1="261.0" x2="71.3" y2="261.0" stroke="#151515" stroke-width="0.8"/>
<text x="0" y="0" transform="translate(68.30,263.60) scale(0.86,1)" font-size="6.6" text-anchor="end" font-weight="bold" fill="#111" style="stroke-width:0.15px">2</text>
<line x1="68.7" y1="279.95" x2="71.3" y2="279.95" stroke="#151515" stroke-width="0.8"/>
<text x="0" y="0" transform="translate(68.30,282.55) scale(0.86,1)" font-size="6.6" text-anchor="end" font-weight="bold" fill="#111" style="stroke-width:0.15px">1.5</text>
<line x1="68.7" y1="298.9" x2="71.3" y2="298.9" stroke="#151515" stroke-width="0.8"/>
<text x="0" y="0" transform="translate(68.30,301.50) scale(0.86,1)" font-size="6.6" text-anchor="end" font-weight="bold" fill="#111" style="stroke-width:0.15px">1</text>
<line x1="68.7" y1="317.85" x2="71.3" y2="317.85" stroke="#151515" stroke-width="0.8"/>
<text x="0" y="0" transform="translate(68.30,320.45) scale(0.86,1)" font-size="6.6" text-anchor="end" font-weight="bold" fill="#111" style="stroke-width:0.15px">0.5</text>
<line x1="68.7" y1="336.8" x2="71.3" y2="336.8" stroke="#151515" stroke-width="0.8"/>
<text x="0" y="0" transform="translate(68.30,339.40) scale(0.86,1)" font-size="6.6" text-anchor="end" font-weight="bold" fill="#111" style="stroke-width:0.15px">0</text>
<rect x="73.1" y="267.4" width="155.9" height="10.700000000000045" fill="#e4e4e4"/>
<rect x="73.1" y="321.2" width="155.9" height="11.0" fill="#ebebeb"/>
<rect x="78.2" y="315.3" width="9.500000000000005" height="21.30000000000001" fill="#fff"/>
<line x1="82.95" y1="316.5" x2="82.95" y2="321" stroke="#333" stroke-width="0.9"/>
<line x1="80.7" y1="316.5" x2="85.2" y2="316.5" stroke="#333" stroke-width="1"/>
<rect x="79.45" y="321.45" width="7.000000000000005" height="15.150000000000023" fill="#0a0a0a" stroke="#333" stroke-width="0.9"/>
<rect x="102.3" y="278.90000000000003" width="9.300000000000002" height="57.69999999999999" fill="#fff"/>
<line x1="106.94999999999999" y1="280.1" x2="106.94999999999999" y2="286.2" stroke="#333" stroke-width="0.9"/>
<line x1="104.69999999999999" y1="280.1" x2="109.19999999999999" y2="280.1" stroke="#333" stroke-width="1"/>
<rect x="103.55" y="286.65" width="6.8000000000000025" height="49.95000000000003" fill="#0a0a0a" stroke="#333" stroke-width="0.9"/>
<circle cx="105.80" cy="278.1" r="0.85" fill="#1a1a1a"/>
<circle cx="108.10" cy="278.1" r="0.85" fill="#1a1a1a"/>
<rect x="123.3" y="282.40000000000003" width="9.1" height="54.19999999999999" fill="#fff"/>
<line x1="127.85" y1="283.6" x2="127.85" y2="288.2" stroke="#333" stroke-width="0.9"/>
<line x1="125.6" y1="283.6" x2="130.1" y2="283.6" stroke="#333" stroke-width="1"/>
<rect x="124.55" y="288.65" width="6.6" height="47.95000000000003" fill="#0a0a0a" stroke="#333" stroke-width="0.9"/>
<circle cx="126.70" cy="281.5" r="0.85" fill="#1a1a1a"/>
<circle cx="129.00" cy="281.5" r="0.85" fill="#1a1a1a"/>
<rect x="146.1" y="279.5" width="9.000000000000005" height="57.10000000000002" fill="#fff"/>
<line x1="150.60000000000002" y1="280.7" x2="150.60000000000002" y2="291" stroke="#333" stroke-width="0.9"/>
<line x1="148.35000000000002" y1="280.7" x2="152.85000000000002" y2="280.7" stroke="#333" stroke-width="1"/>
<rect x="147.35" y="291.45" width="6.500000000000005" height="45.15000000000002" fill="#0a0a0a" stroke="#333" stroke-width="0.9"/>
<circle cx="149.45" cy="278.6" r="0.85" fill="#1a1a1a"/>
<circle cx="151.75" cy="278.6" r="0.85" fill="#1a1a1a"/>
<rect x="170.39999999999998" y="294.2" width="9.200000000000022" height="42.400000000000034" fill="#fff"/>
<line x1="175.0" y1="295.4" x2="175.0" y2="299.75" stroke="#333" stroke-width="0.9"/>
<line x1="172.75" y1="295.4" x2="177.25" y2="295.4" stroke="#333" stroke-width="1"/>
<rect x="171.64999999999998" y="300.2" width="6.700000000000022" height="36.40000000000002" fill="#0a0a0a" stroke="#333" stroke-width="0.9"/>
<circle cx="172.70" cy="293.1" r="0.85" fill="#1a1a1a"/>
<circle cx="175.00" cy="293.1" r="0.85" fill="#1a1a1a"/>
<circle cx="177.30" cy="293.1" r="0.85" fill="#1a1a1a"/>
<rect x="191.1" y="293.40000000000003" width="9.299999999999988" height="43.19999999999999" fill="#fff"/>
<line x1="195.75" y1="294.6" x2="195.75" y2="301.9" stroke="#333" stroke-width="0.9"/>
<line x1="193.5" y1="294.6" x2="198.0" y2="294.6" stroke="#333" stroke-width="1"/>
<rect x="192.35" y="302.34999999999997" width="6.799999999999988" height="34.25000000000004" fill="#0a0a0a" stroke="#333" stroke-width="0.9"/>
<circle cx="193.45" cy="292.3" r="0.85" fill="#1a1a1a"/>
<circle cx="195.75" cy="292.3" r="0.85" fill="#1a1a1a"/>
<circle cx="198.05" cy="292.3" r="0.85" fill="#1a1a1a"/>
<rect x="213.2" y="288.2" width="9.1" height="48.400000000000034" fill="#fff"/>
<line x1="217.75" y1="289.4" x2="217.75" y2="295" stroke="#333" stroke-width="0.9"/>
<line x1="215.5" y1="289.4" x2="220.0" y2="289.4" stroke="#333" stroke-width="1"/>
<rect x="214.45" y="295.45" width="6.6" height="41.15000000000002" fill="#0a0a0a" stroke="#333" stroke-width="0.9"/>
<circle cx="215.45" cy="287.3" r="0.85" fill="#1a1a1a"/>
<circle cx="217.75" cy="287.3" r="0.85" fill="#1a1a1a"/>
<circle cx="220.05" cy="287.3" r="0.85" fill="#1a1a1a"/>
<line x1="70.8" y1="336.6" x2="228.8" y2="336.6" stroke="#151515" stroke-width="1"/>
<line x1="71.3" y1="336.6" x2="71.3" y2="338.6" stroke="#151515" stroke-width="0.8"/>
<line x1="94.4" y1="336.6" x2="94.4" y2="338.6" stroke="#151515" stroke-width="0.8"/>
<line x1="116.5" y1="336.6" x2="116.5" y2="338.6" stroke="#151515" stroke-width="0.8"/>
<line x1="139.4" y1="336.6" x2="139.4" y2="338.6" stroke="#151515" stroke-width="0.8"/>
<line x1="161.9" y1="336.6" x2="161.9" y2="338.6" stroke="#151515" stroke-width="0.8"/>
<line x1="184.5" y1="336.6" x2="184.5" y2="338.6" stroke="#151515" stroke-width="0.8"/>
<line x1="206.9" y1="336.6" x2="206.9" y2="338.6" stroke="#151515" stroke-width="0.8"/>
<line x1="228.8" y1="336.6" x2="228.8" y2="338.6" stroke="#151515" stroke-width="0.8"/>
<text x="82.1" y="344.3" font-size="6.3" text-anchor="middle" font-weight="bold" fill="#111" >hF8.38</text>
<text x="105.3" y="344.3" font-size="6.3" text-anchor="middle" font-weight="bold" fill="#111" >FUhF8</text>
<text x="128.75" y="344.3" font-size="6.3" text-anchor="middle" font-weight="bold" fill="#111" >FUIR8</text>
<text x="150.5" y="344.3" font-size="6.3" text-anchor="middle" font-weight="bold" fill="#111" >FUcF8</text>
<text x="172.6" y="344.3" font-size="6.3" text-anchor="middle" font-weight="bold" fill="#111" >FPhF8</text>
<text x="195.8" y="344.3" font-size="6.3" text-anchor="middle" font-weight="bold" fill="#111" >FPIR8</text>
<text x="217.35" y="344.3" font-size="6.3" text-anchor="middle" font-weight="bold" fill="#111" >FPcF8</text>
<text x="0" y="0" transform="translate(58.5,299.1) rotate(-90) scale(1.094,1)" font-size="5.8" text-anchor="middle" font-weight="bold" fill="#111">Blood flow (mL/min)</text>
<text x="225.8" y="261.1" font-size="6.4" font-weight="bold" text-anchor="end" fill="#111"><tspan font-style="italic">P</tspan> &lt; .02</text>
<circle cx="201.74" cy="257.26" r="0.95" fill="#1a1a1a"/>
<circle cx="204.34" cy="257.26" r="0.95" fill="#1a1a1a"/>
<text x="225.8" y="267.9" font-size="6.4" font-weight="bold" text-anchor="end" fill="#111"><tspan font-style="italic">P</tspan> &lt; .002</text>
<circle cx="195.58" cy="264.06" r="0.95" fill="#1a1a1a"/>
<circle cx="198.18" cy="264.06" r="0.95" fill="#1a1a1a"/>
<circle cx="200.78" cy="264.06" r="0.95" fill="#1a1a1a"/>
<line x1="296.4" y1="260.9" x2="296.4" y2="337" stroke="#151515" stroke-width="1"/>
<line x1="293.79999999999995" y1="261.4" x2="296.4" y2="261.4" stroke="#151515" stroke-width="0.8"/>
<text x="0" y="0" transform="translate(292.20,264.30) scale(0.86,1)" font-size="6.6" text-anchor="end" font-weight="bold" fill="#111" style="stroke-width:0.15px">60</text>
<line x1="293.79999999999995" y1="280.2" x2="296.4" y2="280.2" stroke="#151515" stroke-width="0.8"/>
<text x="0" y="0" transform="translate(292.20,283.10) scale(0.86,1)" font-size="6.6" text-anchor="end" font-weight="bold" fill="#111" style="stroke-width:0.15px">30</text>
<line x1="293.79999999999995" y1="299.6" x2="296.4" y2="299.6" stroke="#151515" stroke-width="0.8"/>
<text x="0" y="0" transform="translate(292.20,302.50) scale(0.86,1)" font-size="6.6" text-anchor="end" font-weight="bold" fill="#111" style="stroke-width:0.15px">20</text>
<line x1="293.79999999999995" y1="318.3" x2="296.4" y2="318.3" stroke="#151515" stroke-width="0.8"/>
<text x="0" y="0" transform="translate(292.20,321.20) scale(0.86,1)" font-size="6.6" text-anchor="end" font-weight="bold" fill="#111" style="stroke-width:0.15px">10</text>
<line x1="293.79999999999995" y1="336.9" x2="296.4" y2="336.9" stroke="#151515" stroke-width="0.8"/>
<text x="0" y="0" transform="translate(292.20,339.80) scale(0.86,1)" font-size="6.6" text-anchor="end" font-weight="bold" fill="#111" style="stroke-width:0.15px">0</text>
<line x1="291.8" y1="267.8" x2="301.8" y2="278.2" stroke="#444" stroke-width="0.9"/>
<line x1="293.6" y1="266.0" x2="303.6" y2="276.4" stroke="#444" stroke-width="0.9"/>
<rect x="302.3" y="269.9" width="151.8" height="10.100000000000023" fill="#e4e4e4"/>
<rect x="297.3" y="324.5" width="156.8" height="11.5" fill="#ebebeb"/>
<rect x="303.3" y="315.7" width="9.499999999999977" height="21.30000000000001" fill="#fff"/>
<line x1="308.05" y1="316.9" x2="308.05" y2="321" stroke="#333" stroke-width="0.9"/>
<line x1="305.8" y1="316.9" x2="310.3" y2="316.9" stroke="#333" stroke-width="1"/>
<rect x="304.55" y="321.45" width="6.999999999999977" height="15.55" fill="#0a0a0a" stroke="#333" stroke-width="0.9"/>
<rect x="327.4" y="282.3" width="9.299999999999988" height="54.69999999999999" fill="#fff"/>
<line x1="332.04999999999995" y1="283.5" x2="332.04999999999995" y2="289" stroke="#333" stroke-width="0.9"/>
<line x1="329.79999999999995" y1="283.5" x2="334.29999999999995" y2="283.5" stroke="#333" stroke-width="1"/>
<rect x="328.65" y="289.45" width="6.799999999999988" height="47.55" fill="#0a0a0a" stroke="#333" stroke-width="0.9"/>
<rect x="348.4" y="283.40000000000003" width="9.1" height="53.599999999999966" fill="#fff"/>
<line x1="352.95" y1="284.6" x2="352.95" y2="291.9" stroke="#333" stroke-width="0.9"/>
<line x1="350.7" y1="284.6" x2="355.2" y2="284.6" stroke="#333" stroke-width="1"/>
<rect x="349.65" y="292.34999999999997" width="6.6" height="44.65000000000002" fill="#0a0a0a" stroke="#333" stroke-width="0.9"/>
<rect x="371.2" y="290.05" width="8.999999999999977" height="46.94999999999999" fill="#fff"/>
<line x1="375.7" y1="291.25" x2="375.7" y2="306" stroke="#333" stroke-width="0.9"/>
<line x1="373.45" y1="291.25" x2="377.95" y2="291.25" stroke="#333" stroke-width="1"/>
<rect x="372.45" y="306.45" width="6.499999999999977" height="30.55" fill="#0a0a0a" stroke="#333" stroke-width="0.9"/>
<circle cx="374.55" cy="289.0" r="0.85" fill="#1a1a1a"/>
<circle cx="376.85" cy="289.0" r="0.85" fill="#1a1a1a"/>
<rect x="395.49999999999994" y="298.2" width="9.200000000000022" height="38.80000000000001" fill="#fff"/>
<line x1="400.09999999999997" y1="299.4" x2="400.09999999999997" y2="308.1" stroke="#333" stroke-width="0.9"/>
<line x1="397.84999999999997" y1="299.4" x2="402.34999999999997" y2="299.4" stroke="#333" stroke-width="1"/>
<rect x="396.74999999999994" y="308.55" width="6.700000000000022" height="28.449999999999978" fill="#0a0a0a" stroke="#333" stroke-width="0.9"/>
<circle cx="398.95" cy="296.9" r="0.85" fill="#1a1a1a"/>
<circle cx="401.25" cy="296.9" r="0.85" fill="#1a1a1a"/>
<rect x="416.2" y="311.90000000000003" width="9.299999999999988" height="25.099999999999966" fill="#fff"/>
<line x1="420.85" y1="313.1" x2="420.85" y2="317.25" stroke="#333" stroke-width="0.9"/>
<line x1="418.6" y1="313.1" x2="423.1" y2="313.1" stroke="#333" stroke-width="1"/>
<rect x="417.45" y="317.7" width="6.799999999999988" height="19.3" fill="#0a0a0a" stroke="#333" stroke-width="0.9"/>
<circle cx="418.55" cy="310.7" r="0.85" fill="#1a1a1a"/>
<circle cx="420.85" cy="310.7" r="0.85" fill="#1a1a1a"/>
<circle cx="423.15" cy="310.7" r="0.85" fill="#1a1a1a"/>
<rect x="438.3" y="305.05" width="9.1" height="31.94999999999999" fill="#fff"/>
<line x1="442.85" y1="306.25" x2="442.85" y2="313.1" stroke="#333" stroke-width="0.9"/>
<line x1="440.6" y1="306.25" x2="445.1" y2="306.25" stroke="#333" stroke-width="1"/>
<rect x="439.55" y="313.55" width="6.6" height="23.449999999999978" fill="#0a0a0a" stroke="#333" stroke-width="0.9"/>
<circle cx="440.55" cy="304.3" r="0.85" fill="#1a1a1a"/>
<circle cx="442.85" cy="304.3" r="0.85" fill="#1a1a1a"/>
<circle cx="445.15" cy="304.3" r="0.85" fill="#1a1a1a"/>
<line x1="295.9" y1="337" x2="453.9" y2="337" stroke="#151515" stroke-width="1"/>
<line x1="296.4" y1="337" x2="296.4" y2="339" stroke="#151515" stroke-width="0.8"/>
<line x1="319.5" y1="337" x2="319.5" y2="339" stroke="#151515" stroke-width="0.8"/>
<line x1="341.6" y1="337" x2="341.6" y2="339" stroke="#151515" stroke-width="0.8"/>
<line x1="364.5" y1="337" x2="364.5" y2="339" stroke="#151515" stroke-width="0.8"/>
<line x1="387.0" y1="337" x2="387.0" y2="339" stroke="#151515" stroke-width="0.8"/>
<line x1="409.6" y1="337" x2="409.6" y2="339" stroke="#151515" stroke-width="0.8"/>
<line x1="432.0" y1="337" x2="432.0" y2="339" stroke="#151515" stroke-width="0.8"/>
<line x1="453.9" y1="337" x2="453.9" y2="339" stroke="#151515" stroke-width="0.8"/>
<text x="306.7" y="344.3" font-size="6.3" text-anchor="middle" font-weight="bold" fill="#111" >hF8.38</text>
<text x="329.9" y="344.3" font-size="6.3" text-anchor="middle" font-weight="bold" fill="#111" >FUhF8</text>
<text x="353.35" y="344.3" font-size="6.3" text-anchor="middle" font-weight="bold" fill="#111" >FUIR8</text>
<text x="375.1" y="344.3" font-size="6.3" text-anchor="middle" font-weight="bold" fill="#111" >FUcF8</text>
<text x="397.2" y="344.3" font-size="6.3" text-anchor="middle" font-weight="bold" fill="#111" >FPhF8</text>
<text x="420.4" y="344.3" font-size="6.3" text-anchor="middle" font-weight="bold" fill="#111" >FPIR8</text>
<text x="441.95" y="344.3" font-size="6.3" text-anchor="middle" font-weight="bold" fill="#111" >FPcF8</text>
<text x="0" y="0" transform="translate(283.9,297.1) rotate(-90) scale(1.037,1)" font-size="5.5" text-anchor="middle" font-weight="bold" fill="#111">Time to occlusion (mins)</text>
<text x="450.7" y="260.9" font-size="6.4" font-weight="bold" text-anchor="end" fill="#111"><tspan font-style="italic">P</tspan> &lt; .02</text>
<circle cx="426.64" cy="257.06" r="0.95" fill="#1a1a1a"/>
<circle cx="429.24" cy="257.06" r="0.95" fill="#1a1a1a"/>
<text x="450.7" y="267.8" font-size="6.4" font-weight="bold" text-anchor="end" fill="#111"><tspan font-style="italic">P</tspan> &lt; .002</text>
<circle cx="420.48" cy="263.96" r="0.95" fill="#1a1a1a"/>
<circle cx="423.08" cy="263.96" r="0.95" fill="#1a1a1a"/>
<circle cx="425.68" cy="263.96" r="0.95" fill="#1a1a1a"/>
</svg>
</body></html>
